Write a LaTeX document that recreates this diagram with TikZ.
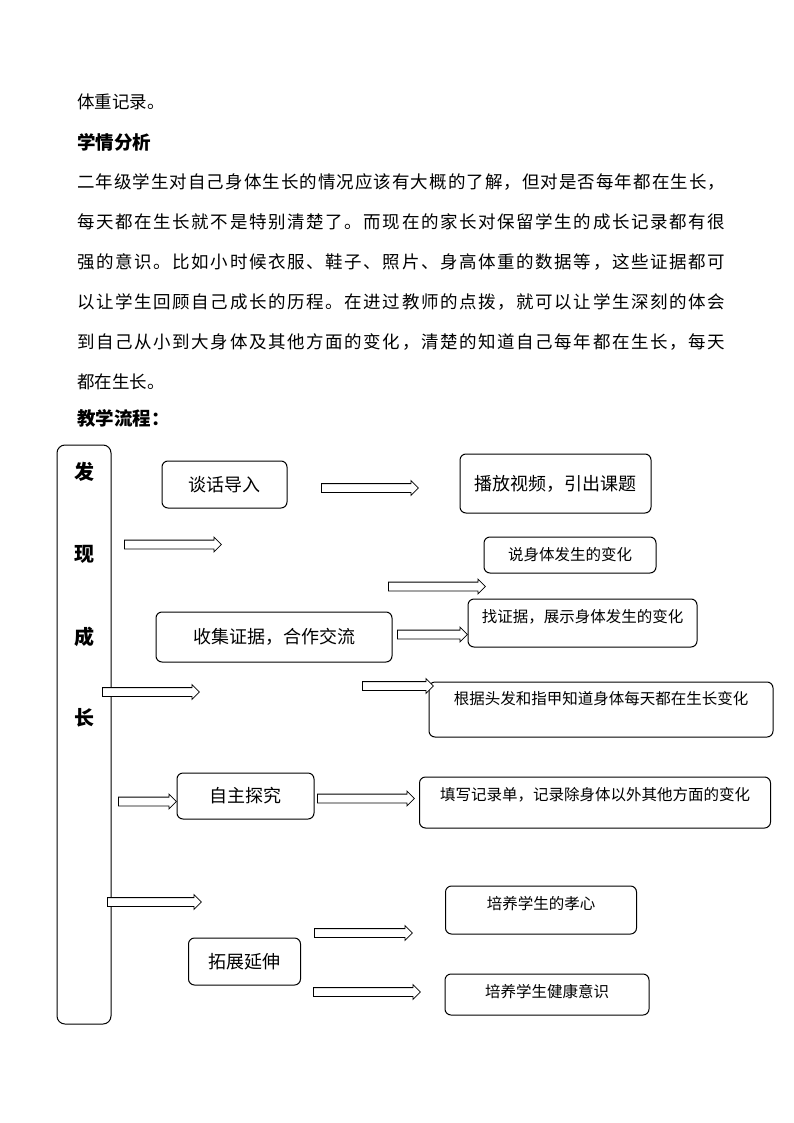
\documentclass[tikz,border=0pt]{standalone}
\usepackage{fontspec}
\setmainfont{Noto Sans CJK SC}
\usetikzlibrary{shapes.arrows}
\makeatletter
\def\spreadline#1#2{\hbox to #1{\spread@#2\relax\unskip}}
\def\spread@#1{\ifx#1\relax\else#1\hfil\expandafter\spread@\fi}
\makeatother
\begin{document}
\begin{tikzpicture}[x=1pt,y=-1pt,
  body/.style={anchor=west, inner sep=0pt, font=\fontsize{17.5}{20}\selectfont},
  head/.style={anchor=west, inner sep=0pt, font=\fontsize{18.5}{21}\selectfont\bfseries},
  box/.style={draw, rounded corners=6pt, line width=1pt, inner sep=0pt},
  bigtxt/.style={inner sep=0pt, font=\fontsize{18}{21}\selectfont},
  smalltxt/.style={inner sep=0pt, font=\fontsize{15.5}{18}\selectfont},
  bartxt/.style={inner sep=0pt, font=\fontsize{20}{23}\selectfont\bfseries},
  blockarrow/.style={single arrow, draw, line width=0.8pt, fill=white, inner xsep=0pt,
    inner ysep=4pt, single arrow head extend=3pt, single arrow tip angle=90,
    minimum width=0pt, anchor=west, minimum height=#1}]
\fill[white] (0,0) rectangle (794,1123);
\useasboundingbox (0,0) rectangle (794,1123);
% body text
\node[body] (l0) at (77,102) {体重记录。};
\node[head] (h1) at (77,142) {学情分析};
\node[body] (l1) at (77,182) {\spreadline{648pt}{二年级学生对自己身体生长的情况应该有大概的了解，但对是否每年都在生长，}};
\node[body] (l2) at (77,222) {\spreadline{648pt}{每天都在生长就不是特别清楚了。而现在的家长对保留学生的成长记录都有很}};
\node[body] (l3) at (77,262) {\spreadline{648pt}{强的意识。比如小时候衣服、鞋子、照片、身高体重的数据等，这些证据都可}};
\node[body] (l4) at (77,302) {\spreadline{648pt}{以让学生回顾自己成长的历程。在进过教师的点拨，就可以让学生深刻的体会}};
\node[body] (l5) at (77,342) {\spreadline{648pt}{到自己从小到大身体及其他方面的变化，清楚的知道自己每年都在生长，每天}};
\node[body] (l6) at (77,382) {都在生长。};
\node[head] (h2) at (77,418) {教学流程：};
% left bar
\node[box, rounded corners=8pt, minimum width=54, minimum height=579] (bar) at (84,734.5) {};
\node[bartxt] (c1) at (84,472) {发};
\node[bartxt] (c2) at (84,554) {现};
\node[bartxt] (c3) at (84,637) {成};
\node[bartxt] (c4) at (84,718) {长};
% boxes
\node[box, minimum width=125, minimum height=47] (b1) at (224.5,484.5) {};
\node[bigtxt] (t1) at (b1.center) {谈话导入};
\node[box, minimum width=191, minimum height=59] (b2) at (555.5,483.5) {};
\node[bigtxt] (t2) at (b2.center) {播放视频，引出课题};
\node[box, minimum width=172, minimum height=36] (b3) at (570,555) {};
\node[smalltxt] (t3) at (b3.center) {说身体发生的变化};
\node[box, minimum width=236, minimum height=50] (b4) at (274,637) {};
\node[bigtxt] (t4) at (b4.center) {收集证据，合作交流};
\node[box, minimum width=229, minimum height=48] (b5) at (582.5,623) {};
\node[smalltxt] (t5) at (582.5,617) {找证据，展示身体发生的变化};
\node[box, minimum width=344, minimum height=55] (b6) at (601,709.5) {};
\node[smalltxt] (t6) at (601,699) {根据头发和指甲知道身体每天都在生长变化};
\node[box, minimum width=137, minimum height=46] (b7) at (245.5,796) {};
\node[bigtxt] (t7) at (b7.center) {自主探究};
\node[box, minimum width=351, minimum height=51] (b8) at (595,802.5) {};
\node[smalltxt] (t8) at (595,795) {填写记录单，记录除身体以外其他方面的变化};
\node[box, minimum width=191, minimum height=48] (b9) at (541,910) {};
\node[smalltxt] (t9) at (541,904) {培养学生的孝心};
\node[box, minimum width=112, minimum height=47] (b10) at (244.5,961.5) {};
\node[bigtxt] (t10) at (b10.center) {拓展延伸};
\node[box, minimum width=204, minimum height=41] (b11) at (547,994.5) {};
\node[smalltxt] (t11) at (547,992) {培养学生健康意识};
% arrows
\node[blockarrow=97] (a1) at (321,488) {};
\node[blockarrow=97] (a2) at (124,544.5) {};
\node[blockarrow=97] (a3) at (388,586.5) {};
\node[blockarrow=70] (a4) at (397,634.5) {};
\node[blockarrow=97] (a5) at (102,692) {};
\node[blockarrow=71] (a6) at (362,686) {};
\node[blockarrow=58] (a7) at (118,801.5) {};
\node[blockarrow=97] (a8) at (317,798.5) {};
\node[blockarrow=94] (a9) at (107,902) {};
\node[blockarrow=98] (a10) at (314,933) {};
\node[blockarrow=107] (a11) at (313,992) {};
\end{tikzpicture}
\end{document}
